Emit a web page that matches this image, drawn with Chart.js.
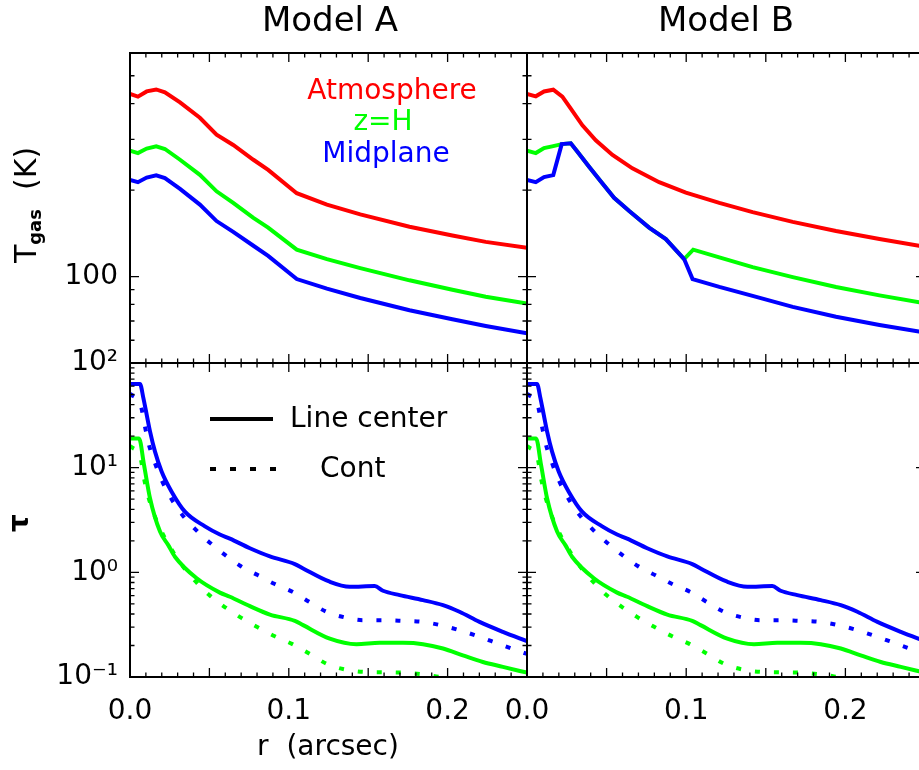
<!DOCTYPE html>
<html>
<head>
<meta charset="utf-8">
<script src="https://cdn.jsdelivr.net/npm/chart.js@4.4.1/dist/chart.umd.min.js"></script>
<style>
  html, body { margin: 0; padding: 0; overflow: hidden; background: #fff; }
  #wrap { position: absolute; left: 0; top: 0; width: 930px; height: 770px; }
</style>
</head>
<body>
<div id="wrap"><canvas id="fig" width="930" height="770"></canvas></div>
<script>
const FONT = "'DejaVu Sans', sans-serif";
const RED = '#ff0000', GREEN = '#00ff00', BLUE = '#0000ff';

// ---- top row: T_gas (K) vs r (arcsec)
const rTopA = [0, 0.005, 0.0105, 0.0165, 0.022, 0.0315, 0.044, 0.0545, 0.065, 0.0777, 0.087, 0.105, 0.124, 0.145, 0.176, 0.203, 0.224, 0.25];
const tAtmA = [432, 423, 441, 448, 438, 404, 357, 312, 287, 255, 235, 195, 178, 164.5, 149, 139, 132, 126];
const tZhA  = [274, 269, 279, 284, 278, 255, 226, 198, 180.5, 160, 148, 124, 115, 107, 97, 90, 85, 80.5];
const tMidA = [217, 213, 221, 225, 220, 202, 178, 156, 143, 128, 118, 98, 90.7, 84.2, 76.3, 71, 67.3, 63.4];

const rAtmB = [0, 0.0055, 0.0107, 0.0165, 0.0222, 0.0275, 0.0348, 0.0432, 0.0537, 0.0662, 0.083, 0.0998, 0.1208, 0.1417, 0.1669, 0.1941, 0.2214, 0.25];
const tAtmB = [432, 424, 441, 447, 423, 384, 336, 298, 265, 238, 213, 196, 180.5, 167.5, 155, 144, 135, 127];
const rMidB = [0, 0.0055, 0.0107, 0.0165, 0.0218, 0.0275, 0.0317, 0.039, 0.0464, 0.0547, 0.0642, 0.0767, 0.0872, 0.0987, 0.104, 0.1208, 0.1417, 0.1669, 0.1941, 0.2214, 0.25];
const tMidB = [217, 213, 222, 225.5, 289, 291, 272, 241, 214, 188, 169, 148, 135, 115, 98, 92, 85.6, 78.4, 72.4, 67.8, 63.8];
const rZhB  = [0, 0.0055, 0.0107, 0.0165, 0.0218, 0.0275, 0.0317, 0.039, 0.0464, 0.0547, 0.0642, 0.0767, 0.0872, 0.0987, 0.1044, 0.1208, 0.1417, 0.1669, 0.1941, 0.2214, 0.25];
const tZhB  = [274, 269, 280, 284.5, 289, 291, 272, 241, 214, 188, 169, 148, 135, 115, 124, 116.6, 107.8, 99.5, 91.9, 86, 80.7];

// ---- bottom row: tau vs r (same in both models)
const rLineMid   = [0, 0.0063, 0.0084, 0.0105, 0.0126, 0.0157, 0.0199, 0.0262, 0.0346, 0.0472, 0.0566, 0.0629, 0.0755, 0.0881, 0.1038, 0.109, 0.1258, 0.1384, 0.1541, 0.1593, 0.1698, 0.1845, 0.1971, 0.2075, 0.2201, 0.2348, 0.25];
const tauLineMid = [63, 63, 46.4, 32.1, 22.2, 14.3, 9.2, 5.9, 3.8, 2.75, 2.3, 2.1, 1.7, 1.42, 1.2, 1.09, 0.813, 0.728, 0.739, 0.667, 0.606, 0.543, 0.486, 0.42, 0.336, 0.27, 0.22];
const rLineZh    = [0, 0.0057, 0.0088, 0.0126, 0.0189, 0.0241, 0.0283, 0.042, 0.0566, 0.0629, 0.0755, 0.0881, 0.1038, 0.109, 0.1258, 0.1426, 0.1572, 0.1719, 0.1845, 0.1971, 0.2096, 0.2222, 0.2348, 0.25];
const tauLineZh  = [19, 19, 10.7, 5.1, 2.45, 1.82, 1.41, 0.877, 0.64, 0.584, 0.475, 0.395, 0.344, 0.313, 0.233, 0.206, 0.212, 0.212, 0.206, 0.187, 0.161, 0.139, 0.125, 0.11];
const rContMid   = [0, 0.0069, 0.0094, 0.0119, 0.0157, 0.0203, 0.0262, 0.0329, 0.0409, 0.0499, 0.0696, 0.0807, 0.0912, 0.1023, 0.1128, 0.1237, 0.1352, 0.1467, 0.1593, 0.1715, 0.1841, 0.1954, 0.2075, 0.2191, 0.2306, 0.2421, 0.25];
const tauContMid = [51, 38.5, 24.8, 16.6, 11.1, 7.4, 5.0, 3.54, 2.6, 1.94, 1.15, 0.936, 0.773, 0.652, 0.523, 0.42, 0.371, 0.349, 0.349, 0.344, 0.336, 0.313, 0.28, 0.245, 0.212, 0.183, 0.166];
const rContZh    = [0, 0.0069, 0.0084, 0.0115, 0.0153, 0.0199, 0.0262, 0.0335, 0.0415, 0.0499, 0.0696, 0.0807, 0.0912, 0.1023, 0.1128, 0.1237, 0.1352, 0.1467, 0.1593, 0.1715, 0.1841, 0.1954, 0.21, 0.25];
const tauContZh  = [16.2, 11.9, 8.55, 5.3, 3.54, 2.45, 1.65, 1.13, 0.813, 0.607, 0.371, 0.297, 0.245, 0.206, 0.168, 0.134, 0.118, 0.112, 0.111, 0.11, 0.106, 0.1, 0.092, 0.08];

// ---- ticks
const xLabelTicks = [0, 0.1, 0.2];
const xMajorTicks = [0, 0.05, 0.1, 0.15, 0.2, 0.25];
const xMinorTicks = [0.01, 0.02, 0.03, 0.04, 0.06, 0.07, 0.08, 0.09, 0.11, 0.12, 0.13, 0.14, 0.16, 0.17, 0.18, 0.19, 0.21, 0.22, 0.23, 0.24];
const tLabelTicks = [100];
const tMinorTicks = [60, 70, 80, 90, 200, 300, 400, 500];
const tauTickValues = [0.1, 1, 10, 100];
const tauTickLabels = ['10\u207B\u00B9', '10\u2070', '10\u00B9', '10\u00B2'];
const tauMinorTicks = [0.2, 0.3, 0.4, 0.5, 0.6, 0.7, 0.8, 0.9, 2, 3, 4, 5, 6, 7, 8, 9, 20, 30, 40, 50, 60, 70, 80, 90];

function pts(xs, ys) { return xs.map((x, i) => ({ x, y: ys[i] })); }

function series(label, xs, ys, color, xId, yId, dotted, order, smooth) {
  return {
    label, data: pts(xs, ys), xAxisID: xId, yAxisID: yId,
    borderColor: color, borderWidth: 4, borderDash: dotted ? [5, 14] : [],
    borderCapStyle: 'butt', pointRadius: 0, fill: false, clip: 0, order,
    cubicInterpolationMode: smooth ? 'monotone' : 'default', tension: 0
  };
}

const tickFont = { family: FONT, size: 28 };

// frame, inward ticks and all the annotation text
const idlFrame = {
  id: 'idlFrame',
  afterDraw(chart) {
    const ctx = chart.ctx;
    const s = chart.scales;
    const panels = [['xL', 'yT', tLabelTicks, tMinorTicks], ['xR', 'yT', tLabelTicks, tMinorTicks],
                    ['xL', 'yB', tauTickValues, tauMinorTicks], ['xR', 'yB', tauTickValues, tauMinorTicks]];
    ctx.save();
    ctx.strokeStyle = '#000';
    for (const [xi, yi, yMaj, yMin] of panels) {
      const xs = s[xi], ys = s[yi];
      const L = xs.left, R = xs.right, T = ys.top, B = ys.bottom;
      ctx.lineWidth = 1.3;
      ctx.beginPath();
      const xt = (vals, len) => vals.forEach(v => {
        const p = xs.getPixelForValue(v);
        ctx.moveTo(p, B); ctx.lineTo(p, B - len);
        ctx.moveTo(p, T); ctx.lineTo(p, T + len);
      });
      const yt = (vals, len) => vals.forEach(v => {
        const p = ys.getPixelForValue(v);
        ctx.moveTo(L, p); ctx.lineTo(L + len, p);
        ctx.moveTo(R, p); ctx.lineTo(R - len, p);
      });
      xt(xMajorTicks, 9); xt(xMinorTicks, 4.5);
      yt(yMaj, 9); yt(yMin, 4.5);
      ctx.stroke();
      ctx.lineWidth = 2;
      ctx.strokeRect(L, T, R - L, B - T);
    }

    ctx.fillStyle = '#000';
    ctx.textAlign = 'center';
    ctx.textBaseline = 'middle';
    ctx.font = '34px ' + FONT;
    ctx.fillText('Model A', 330, 22);
    ctx.fillText('Model B', 726, 22);

    ctx.font = '28px ' + FONT;
    ctx.fillText('r  (arcsec)', 328, 748);

    ctx.fillStyle = RED;   ctx.fillText('Atmosphere', 392, 92);
    ctx.fillStyle = GREEN; ctx.fillText('z=H', 383, 123);
    ctx.fillStyle = BLUE;  ctx.fillText('Midplane', 386, 155);

    // line style key
    ctx.fillStyle = '#000';
    ctx.textAlign = 'left';
    ctx.fillText('Line center', 290, 420);
    ctx.fillText('Cont', 320, 470);
    ctx.strokeStyle = '#000';
    ctx.lineWidth = 4;
    ctx.beginPath(); ctx.moveTo(210, 419); ctx.lineTo(273, 419); ctx.stroke();
    ctx.setLineDash([6, 14]);
    ctx.beginPath(); ctx.moveTo(210, 469); ctx.lineTo(276, 469); ctx.stroke();
    ctx.setLineDash([]);

    // rotated axis titles
    ctx.save();
    ctx.translate(25, 205);
    ctx.rotate(-Math.PI / 2);
    ctx.textBaseline = 'alphabetic';
    const big = '30px ' + FONT, small = 'bold 18px ' + FONT;
    ctx.font = big; const wT = ctx.measureText('T').width; const wK = ctx.measureText('  (K)').width;
    ctx.font = small; const wG = ctx.measureText('gas').width;
    let u = -(wT + wG + wK) / 2;
    ctx.font = big; ctx.fillText('T', u, 11); u += wT;
    ctx.font = small; ctx.fillText('gas', u, 16); u += wG;
    ctx.font = big; ctx.fillText('  (K)', u, 11);
    ctx.restore();

    ctx.save();
    ctx.translate(21, 523);
    ctx.rotate(-Math.PI / 2);
    ctx.textAlign = 'center';
    ctx.textBaseline = 'middle';
    ctx.font = 'bold 28px ' + FONT;
    ctx.fillText('\u03C4', 0, 0);
    ctx.restore();

    ctx.restore();
  }
};

const xAxis = (weight, stackWeight) => ({
  type: 'linear', position: 'bottom', stack: 'cols', stackWeight, weight,
  min: 0, max: 0.25,
  grid: { display: false, drawTicks: false }, border: { display: false },
  afterBuildTicks: sc => { sc.ticks = xLabelTicks.map(v => ({ value: v })); },
  afterFit: sc => { sc.height = 93; sc.paddingLeft = 0; sc.paddingRight = 0; },
  ticks: { font: tickFont, color: '#000', padding: 18, maxRotation: 0, autoSkip: false,
           callback: v => Number(v).toFixed(1) }
});

const yFit = sc => { sc.width = 130; sc.paddingTop = 0; sc.paddingBottom = 0; };

new Chart(document.getElementById('fig'), {
  type: 'line',
  data: {
    datasets: [
      series('Midplane A', rTopA, tMidA, BLUE, 'xL', 'yT', false, 0),
      series('z=H A', rTopA, tZhA, GREEN, 'xL', 'yT', false, 1),
      series('Atmosphere A', rTopA, tAtmA, RED, 'xL', 'yT', false, 2),
      series('Midplane B', rMidB, tMidB, BLUE, 'xR', 'yT', false, 0),
      series('z=H B', rZhB, tZhB, GREEN, 'xR', 'yT', false, 1),
      series('Atmosphere B', rAtmB, tAtmB, RED, 'xR', 'yT', false, 2),
      series('Line mid A', rLineMid, tauLineMid, BLUE, 'xL', 'yB', false, 0, true),
      series('Line z=H A', rLineZh, tauLineZh, GREEN, 'xL', 'yB', false, 1, true),
      series('Cont mid A', rContMid, tauContMid, BLUE, 'xL', 'yB', true, 2, true),
      series('Cont z=H A', rContZh, tauContZh, GREEN, 'xL', 'yB', true, 3, true),
      series('Line mid B', rLineMid, tauLineMid, BLUE, 'xR', 'yB', false, 0, true),
      series('Line z=H B', rLineZh, tauLineZh, GREEN, 'xR', 'yB', false, 1, true),
      series('Cont mid B', rContMid, tauContMid, BLUE, 'xR', 'yB', true, 2, true),
      series('Cont z=H B', rContZh, tauContZh, GREEN, 'xR', 'yB', true, 3, true)
    ]
  },
  options: {
    responsive: false,
    animation: false,
    events: [],
    layout: { padding: { top: 53, left: 0, right: 5, bottom: 0 } },
    plugins: { legend: { display: false }, tooltip: { enabled: false } },
    scales: {
      xL: xAxis(1, 397),
      xR: xAxis(2, 398),
      yT: {
        type: 'logarithmic', position: 'left', stack: 'rows', stackWeight: 310, weight: 2,
        min: 50, max: 600,
        grid: { display: false, drawTicks: false }, border: { display: false },
        afterBuildTicks: sc => { sc.ticks = tLabelTicks.map(v => ({ value: v })); },
        afterFit: yFit,
        ticks: { font: tickFont, color: '#000', padding: 12, callback: v => String(v) }
      },
      yB: {
        type: 'logarithmic', position: 'left', stack: 'rows', stackWeight: 314, weight: 1,
        min: 0.1, max: 100,
        grid: { display: false, drawTicks: false }, border: { display: false },
        afterBuildTicks: sc => { sc.ticks = tauTickValues.map(v => ({ value: v })); },
        afterFit: yFit,
        ticks: { font: tickFont, color: '#000', padding: 12,
                 callback: v => tauTickLabels[tauTickValues.indexOf(v)] }
      }
    }
  },
  plugins: [idlFrame]
});
</script>
</body>
</html>
